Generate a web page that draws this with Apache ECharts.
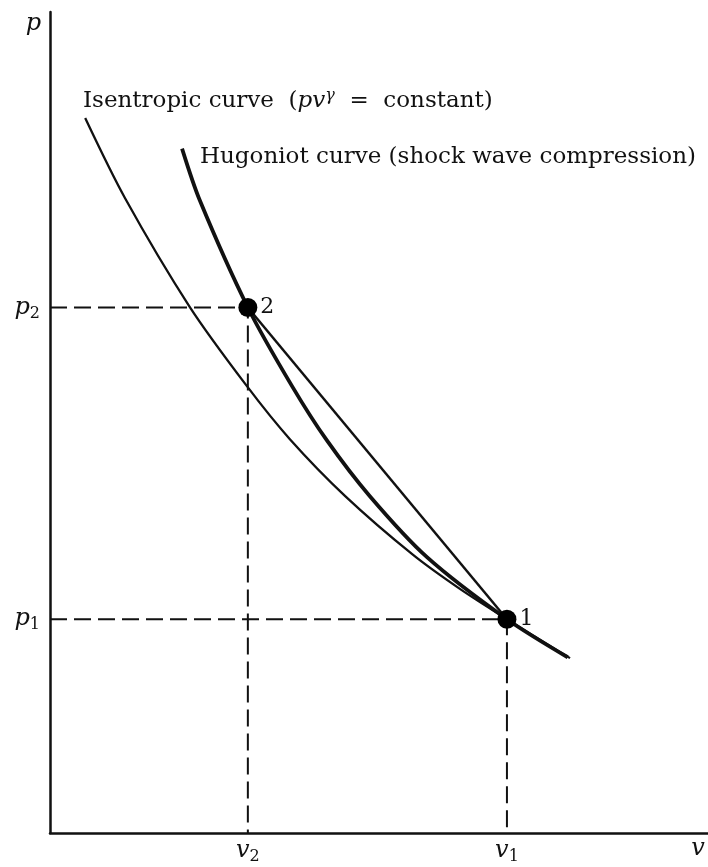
<!DOCTYPE html>
<html>
<head>
<meta charset="utf-8">
<title>p–v diagram: isentropic and Hugoniot curves</title>
<script src="https://cdn.jsdelivr.net/npm/echarts@6/dist/echarts.min.js"></script>
<style>
  html, body { margin: 0; padding: 0; background: #fff; }
  #chart { width: 708px; height: 867px; }
</style>
</head>
<body>
<div id="chart"></div>
<script>
// Specific volume v and pressure p, both relative to state 1 (v1 = 1, p1 = 1)
const isentropicV = [0.077, 0.164, 0.306, 0.431, 0.525, 0.646, 0.794, 0.897, 1.0, 1.138];
const isentropicP = [3.344, 2.970, 2.460, 2.090, 1.842, 1.576, 1.302, 1.142, 1.0, 0.818];

const hugoniotV = [0.289, 0.328, 0.433, 0.530, 0.606, 0.700, 0.825, 1.0, 1.133];
const hugoniotP = [3.201, 2.958, 2.458, 2.089, 1.836, 1.575, 1.290, 1.0, 0.822];

// The two states joined by the shock (Rayleigh line between them)
const stateNames = ['2', '1'];
const stateV = [0.433, 1.0];
const stateP = [2.458, 1.0];

// Subscripts of the axis tick labels at the state values
const vTickLabels = ['2', '1'];
const pTickLabels = ['2', '1'];

const serif = '"DejaVu Serif", "Liberation Serif", serif';
const ink = '#111';

const zip = (xs, ys) => xs.map((x, i) => [x, ys[i]]);

// Dashed guides from each state to both axes
const guideSeries = stateNames.map((name, i) => ({
  type: 'line',
  name: 'guide ' + name,
  data: [[0, stateP[i]], [stateV[i], stateP[i]], [stateV[i], 0]],
  showSymbol: false,
  silent: true,
  lineStyle: { color: ink, width: 2, type: [17, 7] },
  z: 1
}));

const chart = echarts.init(document.getElementById('chart'), null, { renderer: 'canvas' });

chart.setOption({
  animation: false,
  backgroundColor: '#fff',
  grid: { left: 50, right: 0, top: 12, bottom: 34, containLabel: false },
  xAxis: {
    type: 'value',
    min: 0,
    max: 1.44,
    name: 'v',
    nameLocation: 'end',
    nameGap: -10,
    nameTextStyle: {
      fontFamily: serif, fontStyle: 'italic', fontSize: 24, color: ink,
      align: 'center', verticalAlign: 'top', padding: [4, 0, 0, 0]
    },
    axisLine: { show: true, lineStyle: { color: ink, width: 2.5 } },
    axisTick: { show: false },
    splitLine: { show: false },
    axisLabel: {
      customValues: stateV,
      margin: 6,
      formatter: (val) => {
        const idx = stateV.indexOf(val);
        return '{i|v}{s|' + vTickLabels[idx] + '}';
      },
      rich: {
        i: { fontFamily: serif, fontStyle: 'italic', fontSize: 24, color: ink, verticalAlign: 'top' },
        s: { fontFamily: serif, fontSize: 16, color: ink, verticalAlign: 'bottom', padding: [10, 0, 0, 0] }
      }
    }
  },
  yAxis: {
    type: 'value',
    min: 0,
    max: 3.84,
    name: 'p',
    nameLocation: 'end',
    nameGap: -12,
    nameTextStyle: {
      fontFamily: serif, fontStyle: 'italic', fontSize: 24, color: ink,
      align: 'right', verticalAlign: 'middle', padding: [0, 9, 0, 0]
    },
    axisLine: { show: true, lineStyle: { color: ink, width: 2.5 } },
    axisTick: { show: false },
    splitLine: { show: false },
    axisLabel: {
      customValues: stateP,
      margin: 10,
      formatter: (val) => {
        const idx = stateP.indexOf(val);
        return '{i|p}{s|' + pTickLabels[idx] + '}';
      },
      rich: {
        i: { fontFamily: serif, fontStyle: 'italic', fontSize: 24, color: ink },
        s: { fontFamily: serif, fontSize: 16, color: ink, padding: [12, 0, 0, 0] }
      }
    }
  },
  graphic: [
    {
      type: 'text',
      left: 83,
      top: 88,
      style: {
        text: '{n|Isentropic curve  (}{i|pv}{g|γ}{n|  =  constant)}',
        rich: {
          n: { fontFamily: serif, fontSize: 23, fill: ink },
          i: { fontFamily: serif, fontSize: 23, fontStyle: 'italic', fill: ink },
          g: { fontFamily: serif, fontSize: 16, fontStyle: 'italic', fill: ink, padding: [0, 0, 10, 0] }
        }
      }
    },
    {
      type: 'text',
      left: 200,
      top: 146,
      style: {
        text: 'Hugoniot curve (shock wave compression)',
        font: '23px ' + serif,
        fill: ink
      }
    }
  ],
  series: [
    ...guideSeries,
    {
      type: 'line',
      name: 'Isentropic',
      data: zip(isentropicV, isentropicP),
      smooth: 0.3,
      showSymbol: false,
      lineStyle: { color: ink, width: 2.3 },
      z: 2
    },
    {
      type: 'line',
      name: 'Rayleigh line',
      data: zip(stateV, stateP),
      showSymbol: false,
      lineStyle: { color: ink, width: 2.5 },
      z: 2
    },
    {
      type: 'line',
      name: 'Hugoniot',
      data: zip(hugoniotV, hugoniotP),
      smooth: 0.3,
      showSymbol: false,
      lineStyle: { color: ink, width: 3.8, cap: 'butt' },
      z: 3
    },
    {
      type: 'scatter',
      name: 'States',
      data: stateNames.map((n, i) => ({ name: n, value: [stateV[i], stateP[i]] })),
      symbol: 'circle',
      symbolSize: 19,
      itemStyle: { color: '#000', opacity: 1 },
      label: {
        show: true,
        position: 'right',
        distance: 3,
        formatter: (p) => p.name,
        fontFamily: serif,
        fontSize: 22,
        color: ink
      },
      z: 5
    }
  ]
});
</script>
</body>
</html>
